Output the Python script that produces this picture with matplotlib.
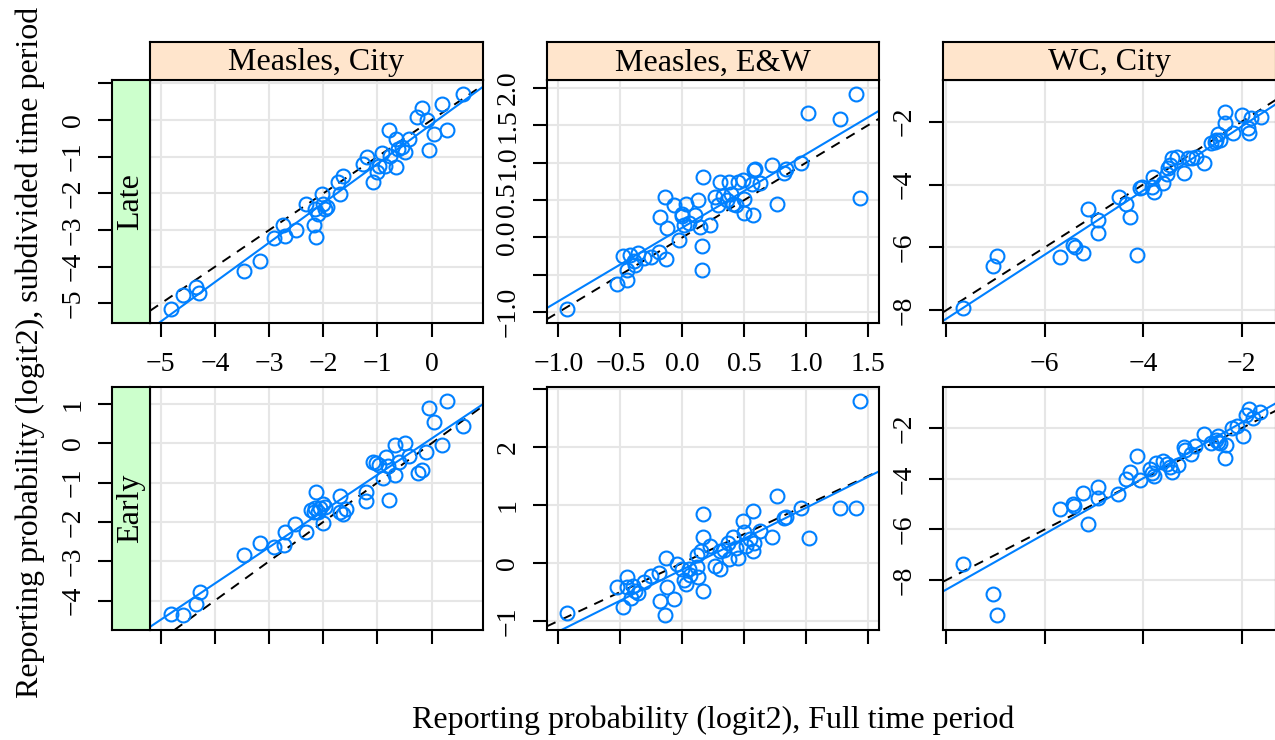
import numpy as np
import matplotlib
matplotlib.use('Agg')
import matplotlib.pyplot as plt

plt.rcParams['font.family'] = ['Liberation Serif', 'DejaVu Serif']

# strip labels
columns = ['Measles, City', 'Measles, E&W', 'WC, City']
rows = ['Late', 'Early']

# Measles, City
mc_x = [-4.82, -4.59, -4.35, -4.29, -3.47, -3.17, -2.91, -2.74, -2.70, -2.50, -2.31, -2.18, -2.13, -2.15,
        -2.09, -2.03, -2.01, -1.97, -1.94, -1.70, -1.72, -1.63, -1.26, -1.20, -1.08, -1.01, -0.97, -0.92,
        -0.86, -0.77, -0.65, -0.66, -0.78, -0.62, -0.49, -0.41, -0.04, -0.26, -0.18, -0.09, 0.04, 0.28,
        0.20, 0.58, -0.54]
mc_late = [-5.16, -4.76, -4.56, -4.72, -4.11, -3.83, -3.21, -2.87, -3.15, -3.01, -2.30, -2.87, -3.19, -2.42,
           -2.55, -2.01, -2.30, -2.42, -2.37, -2.01, -1.69, -1.53, -1.20, -1.00, -1.69, -1.41, -1.26, -0.91,
           -1.26, -0.99, -1.28, -0.53, -0.26, -0.78, -0.87, -0.53, -0.82, 0.07, 0.32, 0.00, -0.38, -0.26,
           0.43, 0.71, -0.73]
mc_x_early = [-4.82, -4.59, -4.35, -4.27, -3.47, -3.17, -2.91, -2.73, -2.70, -2.52, -2.31, -2.13, -2.23, -2.15,
              -2.09, -2.01, -1.97, -2.01, -1.70, -1.69, -1.64, -1.58, -1.21, -1.21, -1.09, -1.03, -0.97, -0.84,
              -0.89, -0.78, -0.80, -0.68, -0.68, -0.60, -0.49, -0.41, -0.25, -0.17, -0.10, -0.04, 0.04, 0.20,
              0.28, 0.58, -2.06, -2.18]
mc_early = [-4.34, -4.36, -4.08, -3.79, -2.84, -2.54, -2.64, -2.58, -2.25, -2.06, -2.25, -1.25, -1.69, -1.65,
            -1.74, -1.54, -1.61, -2.03, -1.34, -1.74, -1.80, -1.68, -1.23, -1.46, -0.47, -0.51, -0.55, -0.34,
            -0.89, -1.44, -0.59, -0.81, -0.04, -0.47, 0.00, -0.32, -0.76, -0.68, -0.21, 0.89, 0.55, -0.04,
            1.08, 0.44, -1.65, -1.74]

# Measles, E&W
mew_x = [-0.93, -0.53, -0.45, -0.45, -0.48, -0.42, -0.39, -0.36, -0.38, -0.31, -0.25, -0.19, -0.13, -0.18,
         -0.14, -0.12, -0.07, -0.03, 0.00, 0.01, 0.03, 0.05, 0.10, 0.13, 0.14, 0.17, 0.16, 0.16, 0.22, 0.26,
         0.29, 0.30, 0.36, 0.38, 0.39, 0.41, 0.43, 0.45, 0.49, 0.50, 0.50, 0.56, 0.57, 0.58, 0.59, 0.63, 0.72,
         0.76, 0.82, 0.84, 0.96, 1.01, 1.27, 1.40, 1.43, 0.00, 0.33]
mew_late = [-0.95, -0.62, -0.57, -0.44, -0.25, -0.24, -0.31, -0.21, -0.37, -0.28, -0.26, -0.19, -0.29, 0.27,
            0.54, 0.13, 0.43, -0.03, 0.31, 0.16, 0.45, 0.19, 0.30, 0.50, 0.14, 0.81, -0.12, -0.43, 0.16, 0.54,
            0.43, 0.74, 0.50, 0.74, 0.58, 0.45, 0.43, 0.74, 0.77, 0.51, 0.32, 0.72, 0.30, 0.90, 0.92, 0.73, 0.97,
            0.45, 0.86, 0.92, 1.00, 1.66, 1.58, 1.91, 0.53, 0.28, 0.55]
mew_x_early = [-0.93, -0.53, -0.48, -0.45, -0.45, -0.41, -0.40, -0.38, -0.36, -0.31, -0.25, -0.19, -0.18, -0.14,
               -0.12, -0.13, -0.07, -0.04, 0.00, 0.01, 0.03, 0.05, 0.12, 0.13, 0.12, 0.15, 0.17, 0.17, 0.17, 0.22,
               0.26, 0.30, 0.30, 0.34, 0.37, 0.38, 0.41, 0.43, 0.45, 0.49, 0.50, 0.51, 0.55, 0.57, 0.57, 0.58,
               0.63, 0.72, 0.76, 0.82, 0.84, 0.96, 1.02, 1.27, 1.40, 1.43, 0.06]
mew_early = [-0.87, -0.41, -0.76, -0.24, -0.41, -0.60, -0.40, -0.49, -0.52, -0.32, -0.22, -0.18, -0.66, -0.89,
             -0.41, 0.09, -0.62, -0.02, -0.11, -0.30, -0.37, -0.10, -0.07, -0.24, 0.14, 0.20, 0.85, 0.45, -0.49,
             0.30, -0.06, -0.11, 0.20, 0.23, 0.34, 0.06, 0.45, 0.26, 0.09, 0.72, 0.53, 0.29, 0.41, 0.89, 0.20,
             0.34, 0.55, 0.45, 1.15, 0.78, 0.79, 0.95, 0.43, 0.95, 0.95, 2.79, -0.20]

# WC, City
wc_x = [-7.66, -7.05, -6.97, -5.70, -5.43, -5.39, -5.22, -5.12, -4.91, -4.92, -4.49, -4.35, -4.26, -4.13,
        -4.07, -4.02, -3.81, -3.83, -3.79, -3.60, -3.52, -3.49, -3.41, -3.31, -3.18, -3.09, -3.00, -2.92,
        -2.77, -2.63, -2.54, -2.47, -2.43, -2.33, -2.33, -2.18, -2.00, -1.86, -1.80, -1.85, -1.60, -1.05,
        -3.45, -2.51]
wc_late = [-7.94, -6.60, -6.28, -6.30, -5.93, -5.98, -6.19, -4.79, -5.13, -5.54, -4.41, -4.62, -5.05, -6.25,
           -4.12, -4.07, -3.75, -4.07, -4.23, -3.94, -3.65, -3.49, -3.17, -3.14, -3.62, -3.17, -3.17, -3.11,
           -3.31, -2.69, -2.64, -2.39, -2.58, -1.68, -2.03, -2.37, -1.79, -2.21, -1.89, -2.35, -1.86, -1.15,
           -3.38, -2.58]
wc_x_early = [-7.66, -7.05, -6.97, -5.70, -5.43, -5.41, -5.22, -5.12, -4.92, -4.91, -4.51, -4.36, -4.27, -4.13,
              -4.06, -3.86, -3.83, -3.79, -3.75, -3.60, -3.52, -3.45, -3.41, -3.30, -3.18, -3.15, -3.03, -2.94,
              -2.77, -2.63, -2.53, -2.47, -2.43, -2.33, -2.32, -2.20, -2.09, -1.98, -1.90, -1.85, -1.77, -1.62,
              -1.05, -2.47]
wc_early = [-7.38, -8.56, -9.39, -5.21, -4.99, -5.07, -4.55, -5.79, -4.34, -4.77, -4.60, -4.02, -3.72, -3.10,
            -4.04, -3.62, -3.78, -3.89, -3.36, -3.28, -3.41, -3.54, -3.72, -3.45, -2.73, -2.86, -3.02, -2.70,
            -2.22, -2.57, -2.46, -2.30, -2.57, -3.19, -2.66, -2.00, -1.91, -2.30, -1.47, -1.25, -1.60, -1.34,
            -0.94, -2.53]

# axis ranges and ticks per column / panel
x_ranges = [(-5.2, 0.95), (-1.094, 1.589), (-8.065, -1.30)]
x_ticks = [[-5, -4, -3, -2, -1, 0], [-1.0, -0.5, 0.0, 0.5, 1.0, 1.5], [-8, -6, -4, -2]]
x_labels = [['−5', '−4', '−3', '−2', '−1', '0'],
            ['−1.0', '−0.5', '0.0', '0.5', '1.0', '1.5'],
            ['', '−6', '−4', '−2']]
y_ranges = [[(-5.54, 1.09), (-1.147, 2.103), (-8.42, -0.672)],
            [(-4.75, 1.44), (-1.156, 3.04), (-9.98, -0.356)]]
y_ticks = [[[-5, -4, -3, -2, -1, 0, 1], [-1.0, -0.5, 0.0, 0.5, 1.0, 1.5, 2.0], [-8, -6, -4, -2]],
           [[-4, -3, -2, -1, 0, 1], [-1, 0, 1, 2, 3], [-8, -6, -4, -2]]]
y_labels = [[['−5', '−4', '−3', '−2', '−1', '0', ''],
             ['−1.0', '', '0.0', '0.5', '1.0', '1.5', '2.0'],
             ['−8', '−6', '−4', '−2']],
            [['−4', '−3', '−2', '−1', '0', '1'],
             ['−1', '0', '1', '2', ''],
             ['−8', '−6', '−4', '−2']]]

data = [[(mc_x, mc_late), (mew_x, mew_late), (wc_x, wc_late)],
        [(mc_x_early, mc_early), (mew_x_early, mew_early), (wc_x_early, wc_early)]]

W, H = 1275, 740
fig = plt.figure(figsize=(W / 100, H / 100), dpi=100)


def px_axes(x0, y0, x1, y1):
    return fig.add_axes([x0 / W, 1 - y1 / H, (x1 - x0) / W, (y1 - y0) / H])


col_px = [(150, 483), (546.7, 879.3), (943.3, 1276)]
row_px = [(80, 323.3), (386.7, 630)]
blue = '#0080ff'
tick_fs = 20
lw = 1.5

for r in range(2):
    for c in range(3):
        x0, x1 = col_px[c]
        y0, y1 = row_px[r]
        ax = px_axes(x0, y0, x1, y1)
        xs, ys = data[r][c]
        ax.set_xlim(x_ranges[c])
        ax.set_ylim(y_ranges[r][c])
        ax.set_xticks(x_ticks[c])
        ax.set_yticks(y_ticks[r][c])
        ax.set_xticklabels(x_labels[c])
        ax.set_yticklabels(y_labels[r][c], rotation=90, va='center')
        ax.grid(True, color='#e6e6e6', lw=1.5)
        ax.set_axisbelow(True)
        for s in ax.spines.values():
            s.set_linewidth(lw)
        ax.tick_params(axis='x', direction='out', length=10, width=lw, pad=11,
                       labelsize=tick_fs, labelbottom=(r == 0))
        ax.tick_params(axis='y', direction='out', length=10, width=lw, pad=9, labelsize=tick_fs)

        # identity line and fitted line
        ax.axline((0, 0), slope=1, color='black', lw=1.4, ls=(0, (5, 4)), zorder=2)
        b, a = np.polyfit(xs, ys, 1)
        xl = np.array(x_ranges[c])
        ax.plot(xl, a + b * xl, color=blue, lw=1.5, zorder=2)
        ax.plot(xs, ys, 'o', mfc='none', mec=blue, ms=10, mew=1.5, zorder=3)

        if c == 0:
            # y axis is drawn on the row strip
            ax.tick_params(axis='y', length=0, labelleft=False)
            st = px_axes(112, y0, 150, y1)
            st.set_facecolor('#ccffcc')
            st.set_ylim(y_ranges[r][c])
            st.set_xticks([])
            st.set_yticks(y_ticks[r][c])
            st.set_yticklabels(y_labels[r][c], rotation=90, va='center')
            st.tick_params(axis='y', direction='out', length=10, width=lw, pad=9, labelsize=tick_fs)
            for s in st.spines.values():
                s.set_linewidth(lw)
            st.text(0.5, 0.5, rows[r], transform=st.transAxes, rotation=90,
                    ha='center', va='center', fontsize=23)

        if r == 0:
            st = px_axes(x0, 42, x1, 80)
            st.set_facecolor('#ffe5cc')
            st.set_xticks([])
            st.set_yticks([])
            for s in st.spines.values():
                s.set_linewidth(lw)
            st.text(0.5, 0.45, columns[c], transform=st.transAxes,
                    ha='center', va='center', fontsize=23)

fig.text(713 / W, 1 - 720 / H, 'Reporting probability (logit2), Full time period',
         ha='center', va='center', fontsize=23)
fig.text(30 / W, 1 - 352 / H, 'Reporting probability (logit2), subdivided time period',
         ha='center', va='center', rotation=90, fontsize=23)

fig.savefig('out.png', dpi=100)
